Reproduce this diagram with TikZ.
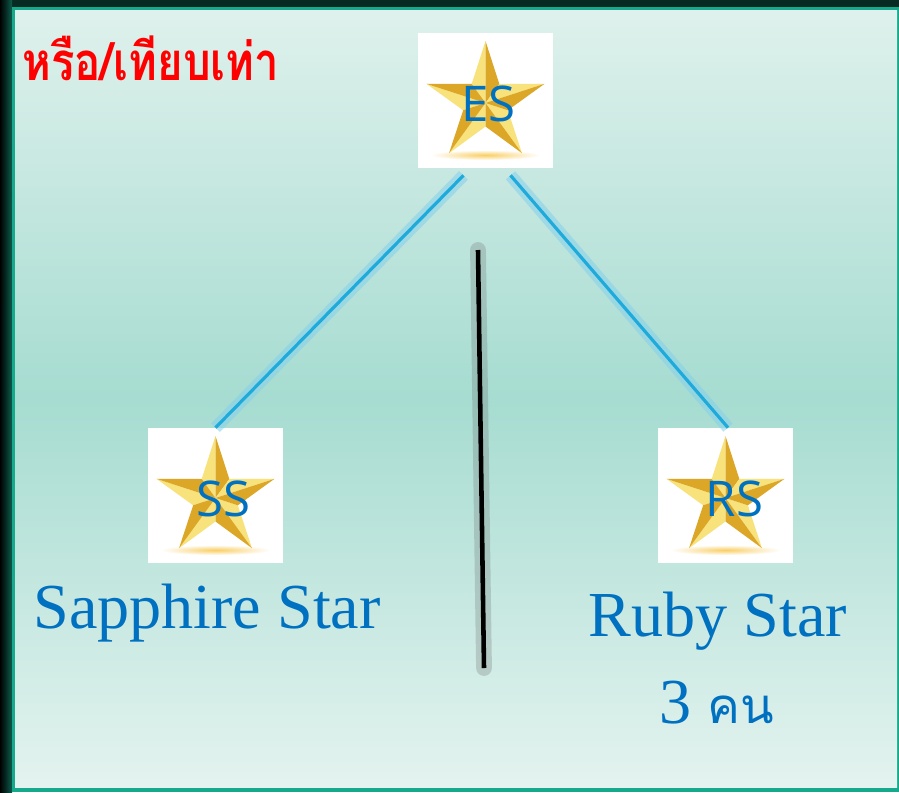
\documentclass[tikz,border=0pt]{standalone}
\usepackage{fontspec}
\setmainfont{Liberation Serif}
\newfontfamily\thaifont[Script=Thai]{Loma}
\newfontfamily\labelfont{Open Sans}
\usetikzlibrary{positioning}
\definecolor{bglight}{HTML}{DFF1EC}
\definecolor{bgmid}{HTML}{A6DCD1}
\definecolor{bgbottom}{HTML}{E4F3EF}
\definecolor{frameteal}{HTML}{17A98C}
\definecolor{framedark}{HTML}{072A22}
\definecolor{starblue}{HTML}{0070C0}
\definecolor{headred}{HTML}{FF0000}
\definecolor{goldlight}{HTML}{F8E27C}
\definecolor{golddark}{HTML}{DCA626}
\definecolor{linkblue}{HTML}{1FAADC}
\begin{document}
\begin{tikzpicture}[x=0.02cm,y=-0.02cm,
		starbox/.style={fill=white,inner sep=0pt,minimum width=2.7cm,minimum height=2.7cm},
		starlabel/.style={text=starblue,font=\labelfont\fontsize{28}{28}\selectfont},
		caption/.style={text=starblue,font=\fontsize{36.5}{44}\selectfont,align=center},
		glowlink/.style={line width=7pt,draw=linkblue!55,opacity=0.55},
		link/.style={line width=1.8pt,draw=linkblue},
		pics/goldstar/.style={code={
			\shade[inner color=goldlight!80!orange,outer color=white] (0,-1.04cm) ellipse [x radius=1.1cm,y radius=0.1cm];
			\foreach \k in {0,...,4} {
				\pgfmathsetmacro\ang{90+72*\k}
				\fill[goldlight] (0,0) -- (\ang:1.24cm) -- ({\ang+36}:0.47cm) -- cycle;
				\fill[golddark] (0,0) -- (\ang:1.24cm) -- ({\ang-36}:0.47cm) -- cycle;
			}
		}}
	]
	\useasboundingbox (0,0) rectangle (899,792);
	% frame and background
	\fill[framedark] (0,0) rectangle (899,792);
	\shade[left color=black,right color=framedark!60!frameteal] (0,0) rectangle (12,792);
	\fill[frameteal] (12,7) rectangle (899,792);
	\shade[top color=bglight,bottom color=bgbottom,middle color=bgmid] (15,10) rectangle (897,787);

	% star boxes
	\node[starbox] (es) at (485.5,100.5) {};
	\node[starbox] (ss) at (215.5,495.5) {};
	\node[starbox] (rs) at (725.5,495.5) {};
	\foreach \s in {es,ss,rs} {
		\pic at ([yshift=-0.05cm]\s.center) {goldstar};
	}
	\node[starlabel] at ([xshift=0.06cm,yshift=-0.07cm]es.center) {ES};
	\node[starlabel] at ([xshift=0.15cm,yshift=-0.07cm]ss.center) {SS};
	\node[starlabel] at ([xshift=0.18cm,yshift=-0.07cm]rs.center) {RS};

	% links
	\draw[glowlink] ([xshift=-0.44cm,yshift=-0.14cm]es.south) -- (ss.north);
	\draw[link] ([xshift=-0.44cm,yshift=-0.14cm]es.south) -- (ss.north);
	\draw[glowlink] ([xshift=0.5cm,yshift=-0.14cm]es.south) -- ([xshift=0.05cm]rs.north);
	\draw[link] ([xshift=0.5cm,yshift=-0.14cm]es.south) -- ([xshift=0.05cm]rs.north);

	% divider
	\draw[line width=9pt,black!60,opacity=0.25,line cap=round] (478,250) -- (484,668);
	\draw[line width=2.6pt,black] (478,250) -- (484,668);

	% texts
	\node[anchor=base west,text=headred,font=\thaifont\bfseries\fontsize{30}{30}\selectfont,inner sep=0pt,transform shape,xscale=0.83] (head) at (22,80) {หรือ/เทียบเท่า};
	\node[caption,anchor=base] (sname) at (207,628) {Sapphire Star};
	\node[caption,anchor=base] (rname) at (718,636) {Ruby Star};
	\node[caption,anchor=base] (rcount) at (717,723) {3 {\thaifont\fontsize{28}{28}\selectfont คน}};
\end{tikzpicture}
\end{document}
